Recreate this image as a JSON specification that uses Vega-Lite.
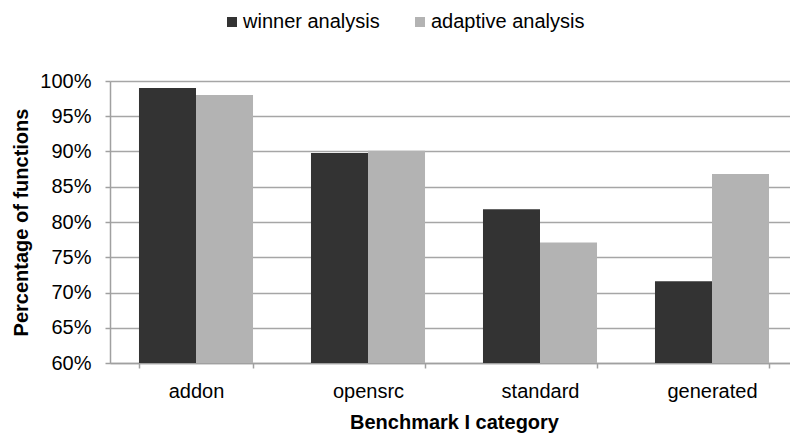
{
  "$schema": "https://vega.github.io/schema/vega-lite/v6.json",
  "width": 688,
  "height": 282,
  "autosize": {"type": "none"},
  "padding": {"left": 110, "top": 81, "right": 0, "bottom": 71},
  "background": "white",
  "config": {
    "view": {"stroke": null},
    "font": "Liberation Sans",
    "axis": {"labelFont": "Liberation Sans", "titleFont": "Liberation Sans", "labelColor": "#000000", "titleColor": "#000000"}
  },
  "data": {
    "values": [
      {"category": "addon", "series": "winner analysis", "value": 0.990},
      {"category": "addon", "series": "adaptive analysis", "value": 0.980},
      {"category": "opensrc", "series": "winner analysis", "value": 0.898},
      {"category": "opensrc", "series": "adaptive analysis", "value": 0.901},
      {"category": "standard", "series": "winner analysis", "value": 0.818},
      {"category": "standard", "series": "adaptive analysis", "value": 0.771},
      {"category": "generated", "series": "winner analysis", "value": 0.716},
      {"category": "generated", "series": "adaptive analysis", "value": 0.868}
    ]
  },
  "mark": {"type": "bar"},
  "encoding": {
    "x": {
      "field": "category",
      "type": "nominal",
      "sort": ["addon", "opensrc", "standard", "generated"],
      "scale": {"paddingInner": 0.337, "paddingOuter": 0.1685},
      "axis": {
        "title": "Benchmark I category",
        "titleFontSize": 20,
        "titleFontWeight": "bold",
        "titlePadding": 11,
        "labelFontSize": 20,
        "labelAngle": 0,
        "labelPadding": 13,
        "tickBand": "extent",
        "tickSize": 5,
        "tickColor": "#a0a0a0",
        "tickWidth": 1.5,
        "domainColor": "#a0a0a0",
        "domainWidth": 1.5,
        "grid": false
      }
    },
    "xOffset": {
      "field": "series",
      "type": "nominal",
      "sort": ["winner analysis", "adaptive analysis"],
      "scale": {"paddingInner": 0, "paddingOuter": 0}
    },
    "y": {
      "field": "value",
      "type": "quantitative",
      "scale": {"domain": [0.6, 1.0], "nice": false, "zero": false},
      "axis": {
        "title": "Percentage of functions",
        "titleFontSize": 20,
        "titleFontWeight": "bold",
        "titlePadding": 8,
        "format": ".0%",
        "values": [0.6, 0.65, 0.7, 0.75, 0.8, 0.85, 0.9, 0.95, 1.0],
        "labelFontSize": 20,
        "labelPadding": 14,
        "tickSize": 5,
        "tickColor": "#a0a0a0",
        "tickWidth": 1.5,
        "domainColor": "#a0a0a0",
        "domainWidth": 1.5,
        "grid": true,
        "gridColor": "#a6a6a6",
        "gridWidth": 1.5
      }
    },
    "y2": {"datum": 0.6},
    "color": {
      "field": "series",
      "type": "nominal",
      "scale": {"domain": ["winner analysis", "adaptive analysis"], "range": ["#333333", "#b3b3b3"]},
      "legend": {
        "title": null,
        "orient": "none",
        "direction": "horizontal",
        "legendX": 112,
        "legendY": -69,
        "symbolType": "square",
        "symbolSize": 100,
        "symbolStrokeWidth": 0,
        "labelFont": "Liberation Sans",
        "labelFontSize": 20,
        "labelColor": "#000000",
        "labelOffset": 1,
        "columnPadding": 30
      }
    }
  }
}
